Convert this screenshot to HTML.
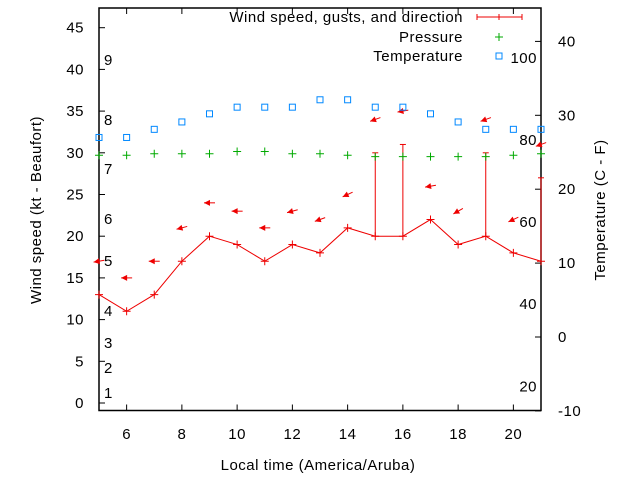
<!DOCTYPE html>
<html><head><meta charset="utf-8"><style>
body{margin:0;background:#fff}
svg{display:block;font-family:"Liberation Sans",sans-serif;font-size:15px;letter-spacing:0.5px}
</style></head><body>
<svg id="chart" width="640" height="480">
<g id="axes"></g>
<g id="marks"></g>
<g id="legend">
<text x="463" y="22" text-anchor="end">Wind speed, gusts, and direction</text>
<line x1="477" y1="17" x2="522" y2="17" stroke="#e00"/>
<line x1="477" y1="14" x2="477" y2="20" stroke="#e00"/>
<line x1="522" y1="14" x2="522" y2="20" stroke="#e00"/>
<line x1="499" y1="14" x2="499" y2="20" stroke="#e00"/>
<text x="463" y="42" text-anchor="end">Pressure</text>
<path d="M495 37h8M499 33v8" stroke="#0a0"/>
<text x="463" y="61" text-anchor="end">Temperature</text>
<rect x="496" y="53" width="6" height="6" fill="none" stroke="#08f"/>
</g>
</svg>
<script>
const hours=[5,6,7,8,9,10,11,12,13,14,15,16,17,18,19,20,21];
const windSpeed=[13,11,13,17,20,19,17,19,18,21,20,20,22,19,20,18,17];
const gustHours=[15,16,19,21];
const gustValues=[30,31,30,27];
const arrowLevel=[17,15,17,21,24,23,21,23,22,25,34,35,26,23,34,22,31];
const windDir=[80,90,90,75,90,90,90,75,70,65,70,80,80,60,70,65,70];
const pressure=[24.6,24.6,24.8,24.8,24.8,25.1,25.1,24.8,24.8,24.6,24.4,24.4,24.4,24.4,24.4,24.6,24.8];
const temperature=[27,27,28.1,29.1,30.2,31.1,31.1,31.1,32.1,32.1,31.1,31.1,30.2,29.1,28.1,28.1,28.1];
const xTicks=[6,8,10,12,14,16,18,20];
const yTicks=[0,5,10,15,20,25,30,35,40,45];
const y2Ticks=[-10,0,10,20,30,40];
const beaufort=[["1",393],["2",368],["3",343],["4",311],["5",261],["6",219],["7",169],["8",120],["9",60]];
const fahrenheit=[100,80,60,40,20];

const L=99,R=541,T=8,B=410.5;
const X=h=>L+(h-5)*(R-L)/16;
const Y=v=>403-v*8.34;
const Y2=v=>337-v*7.39;
const ns="http://www.w3.org/2000/svg";
function mk(parent,tag,attrs,name,txt){
  const el=document.createElementNS(ns,tag);
  for(const k in attrs)el.setAttribute(k,attrs[k]);
  
  
  if(txt!==undefined)el.textContent=txt;
  document.getElementById(parent).appendChild(el);return el;
}
mk('axes','rect',{x:L,y:T,width:R-L,height:B-T,fill:'none',stroke:'#000','stroke-width':1.5},'plot-frame');
xTicks.forEach(t=>{
  mk('axes','line',{x1:X(t),x2:X(t),y1:B,y2:B-6,stroke:'#000'},'x-tick');
  mk('axes','line',{x1:X(t),x2:X(t),y1:T,y2:T+6,stroke:'#000'},'x-tick-top');
  mk('axes','text',{x:X(t),y:439,'text-anchor':'middle'},'x-tick-label',t);
});
yTicks.forEach(t=>{
  mk('axes','line',{x1:L,x2:L+6,y1:Y(t),y2:Y(t),stroke:'#000'},'y-tick');
  mk('axes','text',{x:84,y:Y(t)+5,'text-anchor':'end'},'y-tick-label',t);
});
y2Ticks.forEach(t=>{
  mk('axes','line',{x1:R,x2:R-6,y1:Y2(t),y2:Y2(t),stroke:'#000'},'y2-tick');
  mk('axes','text',{x:558,y:Y2(t)+5},'y2-tick-label',t);
});
beaufort.forEach(b=>mk('axes','text',{x:104,y:b[1]+5},'beaufort-label',b[0]));
fahrenheit.forEach(f=>{const c=(f-32)*5/9;mk('axes','text',{x:537,y:Y2(c)+5,'text-anchor':'end'},'fahrenheit-label',f);});
mk('axes','text',{x:318,y:470,'text-anchor':'middle'},'x-axis-title','Local time (America/Aruba)');
mk('axes','text',{x:41,y:210,'text-anchor':'middle',transform:'rotate(-90 41 210)'},'y-axis-title','Wind speed (kt - Beaufort)');
mk('axes','text',{x:605,y:210,'text-anchor':'middle',transform:'rotate(-90 605 210)'},'y2-axis-title','Temperature (C - F)');

mk('marks','polyline',{points:hours.map((h,i)=>X(h)+','+Y(windSpeed[i])).join(' '),fill:'none',stroke:'#e00','stroke-width':1},'wind-speed-line');
hours.forEach((h,i)=>mk('marks','path',{d:`M${X(h)-4} ${Y(windSpeed[i])}h8M${X(h)} ${Y(windSpeed[i])-4}v8`,stroke:'#e00'},'wind-speed-point'));
gustHours.forEach((h,i)=>{
  const si=hours.indexOf(h);
  mk('marks','line',{x1:X(h),x2:X(h),y1:Y(windSpeed[si]),y2:Y(gustValues[i]),stroke:'#e00'},'gust-bar');
  mk('marks','line',{x1:X(h)-3,x2:X(h)+3,y1:Y(gustValues[i]),y2:Y(gustValues[i]),stroke:'#e00'},'gust-cap');
});
hours.forEach((h,i)=>{
  const a=windDir[i]*Math.PI/180, x=X(h), y=Y(arrowLevel[i]);
  const dx=-Math.sin(a), dy=Math.cos(a);
  const len=11, x0=x-dx*len/2, y0=y-dy*len/2, x1=x+dx*len/2, y1=y+dy*len/2;
  mk('marks','line',{x1:x0,y1:y0,x2:x1,y2:y1,stroke:'#e00'},'wind-direction-shaft');
  const px=-dy,py=dx;
  mk('marks','polygon',{points:`${x1},${y1} ${x1-dx*6+px*3},${y1-dy*6+py*3} ${x1-dx*6-px*3},${y1-dy*6-py*3}`,fill:'#e00'},'wind-direction-head');
});
hours.forEach((h,i)=>mk('marks','path',{d:`M${X(h)-4} ${Y2(pressure[i])}h8M${X(h)} ${Y2(pressure[i])-4}v8`,stroke:'#0a0'},'pressure-point'));
hours.forEach((h,i)=>mk('marks','rect',{x:X(h)-3,y:Y2(temperature[i])-3,width:6,height:6,fill:'none',stroke:'#08f'},'temperature-point'));
</script>
</body></html>
